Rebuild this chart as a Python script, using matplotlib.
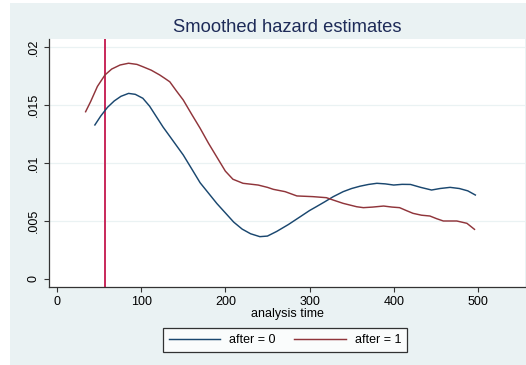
import matplotlib

matplotlib.use("Agg")
import matplotlib.pyplot as plt
from matplotlib.patches import Rectangle

plt.rcParams["font.family"] = ["Liberation Sans", "DejaVu Sans"]

# smoothed hazard, after = 0
t_after0 = [45, 52, 60, 68, 76, 85, 93, 102, 110, 118, 126, 135, 150, 160, 170, 180,
            190, 200, 210, 220, 230, 241, 250, 261, 275, 289, 300, 308, 318, 328, 340,
            350, 360, 370, 380, 390, 400, 410, 420, 432, 445, 455, 467, 478, 488, 497]
h_after0 = [0.01328, 0.01405, 0.0148, 0.01535, 0.01575, 0.0160, 0.01592, 0.01558,
            0.0149, 0.0140, 0.0131, 0.0122, 0.01069, 0.0095, 0.0083, 0.0074, 0.0065,
            0.0057, 0.0049, 0.0043, 0.0039, 0.00365, 0.0037, 0.0041, 0.0047, 0.00537,
            0.0059, 0.00623, 0.00665, 0.00709, 0.00753, 0.0078, 0.0080, 0.00815,
            0.00825, 0.0082, 0.0081, 0.00816, 0.00815, 0.0079, 0.00767, 0.0078,
            0.0079, 0.0078, 0.0076, 0.00724]

# smoothed hazard, after = 1
t_after1 = [34, 40, 48, 57, 65, 75, 85, 95, 102, 112, 122, 128, 134, 142, 150, 160,
            170, 180, 190, 200, 209, 221, 239, 250, 257, 271, 285, 304, 320, 328, 340,
            356, 364, 375, 388, 398, 407, 415, 423, 433, 443, 451, 459, 467, 475, 487, 496]
h_after1 = [0.01442, 0.0153, 0.0166, 0.01759, 0.0181, 0.01845, 0.0186, 0.0185, 0.0183,
            0.0180, 0.01759, 0.0173, 0.0170, 0.0162, 0.01543, 0.0142, 0.0130, 0.0117,
            0.0105, 0.0093, 0.0086, 0.00825, 0.0081, 0.0079, 0.00773, 0.00753, 0.00716,
            0.0071, 0.00701, 0.00681, 0.00652, 0.00623, 0.00615, 0.0062, 0.00629,
            0.0062, 0.00615, 0.0059, 0.00566, 0.0055, 0.00543, 0.0052, 0.0050, 0.0050,
            0.0050, 0.0048, 0.00428]

vline_at = 57

x_ticks = [0, 100, 200, 300, 400, 500]
y_ticks = [0, 0.005, 0.01, 0.015, 0.02]
y_tick_labels = ["0", ".005", ".01", ".015", ".02"]
series_labels = ["after = 0", "after = 1"]

W, H = 526, 365
fig = plt.figure(figsize=(W / 100, H / 100), dpi=100)
fig.patch.set_facecolor("white")
bg = "#eaf2f3"
fig.patches.append(Rectangle((10 / W, 0), 516 / W, 362 / H, transform=fig.transFigure,
                             facecolor=bg, edgecolor="none", zorder=-10))

ax = fig.add_axes([49 / W, (H - 287) / H, (525 - 49) / W, (287 - 39) / H])
ax.set_zorder(1)
ax.set_facecolor("white")
ax.set_xlim(-9.5, 556)
ax.set_ylim(-0.00069, 0.02069)

for y in y_ticks[1:]:
    ax.axhline(y, color=bg, linewidth=0.9, zorder=1)

ax.plot(t_after0, h_after0, color="#1a476f", linewidth=1.05, label=series_labels[0], zorder=3)
ax.plot(t_after1, h_after1, color="#90353b", linewidth=1.05, label=series_labels[1], zorder=3)
ax.axvline(vline_at, color="#c8285a", linewidth=1.4, zorder=2)

ax.set_xticks(x_ticks)
ax.set_yticks(y_ticks)
ax.set_yticklabels(y_tick_labels, rotation=90, va="center")
ax.tick_params(axis="both", labelsize=9, length=3.5, color="#333333", labelcolor="black", pad=3)
for side in ("top", "right"):
    ax.spines[side].set_visible(False)
for side in ("left", "bottom"):
    ax.spines[side].set_color("#333333")
    ax.spines[side].set_linewidth(0.9)

ax.set_xlabel("analysis time", fontsize=9, labelpad=0)
fig.text(287 / W, (H - 27) / H, "Smoothed hazard estimates", ha="center", va="center",
         fontsize=13.2, color="#1e2b58")

leg = fig.legend(loc="center", bbox_to_anchor=(285 / W, (H - 340) / H), ncol=2,
                 fontsize=9, frameon=True, fancybox=False, edgecolor="black",
                 handlelength=4.1, handletextpad=0.75, columnspacing=1.5, borderpad=0.45)
leg.get_frame().set_linewidth(0.9)

fig.savefig("out.png", dpi=100)
